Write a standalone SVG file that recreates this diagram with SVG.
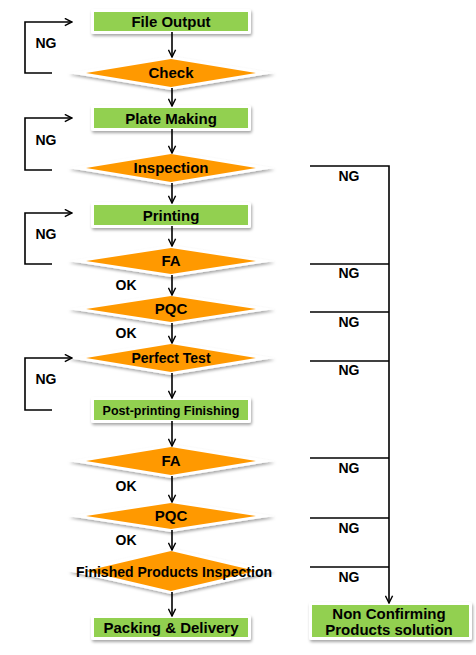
<svg xmlns="http://www.w3.org/2000/svg" width="476" height="655" viewBox="0 0 476 655">
<defs>
<filter id="sh" x="-10%" y="-30%" width="120%" height="180%">
<feDropShadow dx="1" dy="2" stdDeviation="1.5" flood-color="#000" flood-opacity="0.35"/>
</filter>
<marker id="ah" viewBox="0 0 10 10" refX="9" refY="5" markerWidth="9" markerHeight="9" markerUnits="userSpaceOnUse" orient="auto">
<path d="M1,1 L9,5 L1,9" fill="none" stroke="#000" stroke-width="1.6"/>
</marker>
</defs>
<style>
.bg{fill:#fff;filter:url(#sh)}
.box{fill:#92D050}
.dia{fill:#FF9900}
.t{font-family:"Liberation Sans",Arial,sans-serif;font-weight:bold;fill:#000;text-anchor:middle}
.lbl{font-family:"Liberation Sans",Arial,sans-serif;font-weight:bold;font-size:14px;fill:#000;text-anchor:middle}
.ln{fill:none;stroke:#000;stroke-width:1.6}
</style>
<rect width="476" height="655" fill="#fff"/>

<g id="file-output">
<rect class="bg" x="91" y="9" width="160" height="25" rx="2"/>
<rect class="box" x="94" y="12" width="154" height="19"/>
<text class="t" x="171" y="27" font-size="15">File Output</text>
</g>
<g id="check">
<polygon class="bg" points="68,73 171,56 274,73 171,90"/>
<polygon class="dia" points="86,73 171,59 256,73 171,87"/>
<text class="t" x="171" y="78" font-size="15">Check</text>
</g>
<g id="plate-making">
<rect class="bg" x="91" y="105" width="160" height="26" rx="2"/>
<rect class="box" x="94" y="108" width="154" height="20"/>
<text class="t" x="171" y="123.5" font-size="15">Plate Making</text>
</g>
<g id="inspection">
<polygon class="bg" points="68,168 171,151 274,168 171,185"/>
<polygon class="dia" points="86,168 171,154 256,168 171,182"/>
<text class="t" x="171" y="173" font-size="15">Inspection</text>
</g>
<g id="printing">
<rect class="bg" x="91" y="202" width="160" height="26" rx="2"/>
<rect class="box" x="94" y="205" width="154" height="20"/>
<text class="t" x="171" y="220.5" font-size="15">Printing</text>
</g>
<g id="fa1">
<polygon class="bg" points="68,261 171,245 274,261 171,277"/>
<polygon class="dia" points="86,261 171,248 256,261 171,274"/>
<text class="t" x="171" y="266" font-size="15">FA</text>
</g>
<g id="pqc1">
<polygon class="bg" points="68,309 171,293 274,309 171,325"/>
<polygon class="dia" points="86,309 171,296 256,309 171,322"/>
<text class="t" x="171" y="314" font-size="15">PQC</text>
</g>
<g id="perfect-test">
<polygon class="bg" points="68,358 171,341 274,358 171,375"/>
<polygon class="dia" points="86,358 171,344 256,358 171,372"/>
<text class="t" x="171" y="362.5" font-size="14">Perfect Test</text>
</g>
<g id="post-printing">
<rect class="bg" x="91" y="397" width="160" height="26" rx="2"/>
<rect class="box" x="94" y="400" width="154" height="20"/>
<text class="t" x="171" y="414.5" font-size="12.5">Post-printing Finishing</text>
</g>
<g id="fa2">
<polygon class="bg" points="68,461 171,444 274,461 171,478"/>
<polygon class="dia" points="86,461 171,447 256,461 171,475"/>
<text class="t" x="171" y="466" font-size="15">FA</text>
</g>
<g id="pqc2">
<polygon class="bg" points="68,516 171,500 274,516 171,532"/>
<polygon class="dia" points="86,516 171,503 256,516 171,529"/>
<text class="t" x="171" y="521" font-size="15">PQC</text>
</g>
<g id="finished-inspection">
<polygon class="bg" points="68,571 171,548 274,571 171,594"/>
<polygon class="dia" points="86,571 171,551 256,571 171,591"/>
<text class="t" x="174" y="577" font-size="14">Finished Products Inspection</text>
</g>
<g id="packing">
<rect class="bg" x="91" y="615" width="160" height="25" rx="2"/>
<rect class="box" x="94" y="618" width="154" height="19"/>
<text class="t" x="171" y="633" font-size="15">Packing &amp; Delivery</text>
</g>
<g id="non-confirming">
<rect class="bg" x="309" y="602" width="163" height="38" rx="2"/>
<rect class="box" x="312" y="605" width="157" height="32"/>
<text class="t" x="389" y="618.5" font-size="15">Non Confirming</text>
<text class="t" x="389" y="635" font-size="15">Products solution</text>
</g>

<g id="connectors">
<line class="ln" x1="172" y1="32" x2="172" y2="57" marker-end="url(#ah)"/>
<line class="ln" x1="172" y1="88" x2="172" y2="106" marker-end="url(#ah)"/>
<line class="ln" x1="172" y1="129" x2="172" y2="153" marker-end="url(#ah)"/>
<line class="ln" x1="172" y1="183" x2="172" y2="203" marker-end="url(#ah)"/>
<line class="ln" x1="172" y1="226" x2="172" y2="246" marker-end="url(#ah)"/>
<line class="ln" x1="172" y1="275" x2="172" y2="295" marker-end="url(#ah)"/>
<line class="ln" x1="172" y1="323" x2="172" y2="343" marker-end="url(#ah)"/>
<line class="ln" x1="172" y1="373" x2="172" y2="398" marker-end="url(#ah)"/>
<line class="ln" x1="172" y1="421" x2="172" y2="446" marker-end="url(#ah)"/>
<line class="ln" x1="172" y1="476" x2="172" y2="502" marker-end="url(#ah)"/>
<line class="ln" x1="172" y1="530" x2="172" y2="550" marker-end="url(#ah)"/>
<line class="ln" x1="172" y1="592" x2="172" y2="616" marker-end="url(#ah)"/>

<polyline class="ln" points="52,73 25,73 25,22 72,22" marker-end="url(#ah)"/>
<polyline class="ln" points="52,170 25,170 25,118 72,118" marker-end="url(#ah)"/>
<polyline class="ln" points="52,264 25,264 25,213 72,213" marker-end="url(#ah)"/>
<polyline class="ln" points="52,410 25,410 25,358 72,358" marker-end="url(#ah)"/>

<polyline class="ln" points="310,166 389,166 389,603" marker-end="url(#ah)"/>
<line class="ln" x1="310" y1="264" x2="389" y2="264"/>
<line class="ln" x1="310" y1="312" x2="389" y2="312"/>
<line class="ln" x1="310" y1="361" x2="389" y2="361"/>
<line class="ln" x1="310" y1="458" x2="389" y2="458"/>
<line class="ln" x1="310" y1="518" x2="389" y2="518"/>
<line class="ln" x1="310" y1="567" x2="389" y2="567"/>

<text class="lbl" x="46" y="48">NG</text>
<text class="lbl" x="46" y="145">NG</text>
<text class="lbl" x="46" y="239">NG</text>
<text class="lbl" x="46" y="384">NG</text>
<text class="lbl" x="126" y="290">OK</text>
<text class="lbl" x="126" y="338">OK</text>
<text class="lbl" x="126" y="491">OK</text>
<text class="lbl" x="126" y="545">OK</text>
<text class="lbl" x="349" y="181">NG</text>
<text class="lbl" x="349" y="278">NG</text>
<text class="lbl" x="349" y="327">NG</text>
<text class="lbl" x="349" y="375">NG</text>
<text class="lbl" x="349" y="473">NG</text>
<text class="lbl" x="349" y="533">NG</text>
<text class="lbl" x="349" y="582">NG</text>
</g>
</svg>
